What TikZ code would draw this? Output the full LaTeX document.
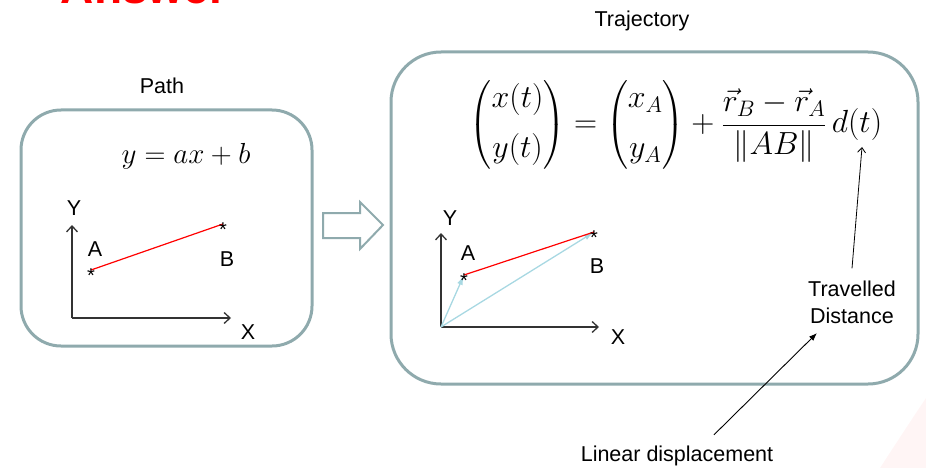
\RequirePackage{fix-cm}
\documentclass[tikz,border=0pt]{standalone}
\usepackage{amsmath}
\usepackage{fontspec}
\setmainfont{Liberation Sans}
\usetikzlibrary{arrows.meta,positioning}
\definecolor{boxgray}{HTML}{8FAAAD}
\definecolor{vecblue}{HTML}{A8D8E2}

\begin{document}
\begin{tikzpicture}[x=1pt, y=-1pt,
    lbl/.style={font=\fontsize{21.5}{27}\selectfont, inner sep=0pt},
    panel/.style={draw=boxgray, line width=3pt, rounded corners=40pt, inner sep=0pt},
    axis/.style={-{Straight Barb[length=6pt,width=11pt]}, line width=1.3pt, draw=black!80},
    vec/.style={-{Latex[length=9pt,width=6pt]}, draw=vecblue, line width=1.3pt},
    seg/.style={draw=red, line width=1.2pt},
    star/.style={font=\fontsize{20}{20}\selectfont, inner sep=0pt, anchor=base, yshift=-12pt},
    note/.style={-{Straight Barb[length=5pt,width=8pt]}, line width=0.8pt},
    eq/.style={font=\fontsize{32}{38}\selectfont, inner sep=0pt}]
  \useasboundingbox (0,0) rectangle (926,468);
  \fill[red!4] (926,398) .. controls (908,425) and (893,448) .. (880,468) -- (926,468) -- cycle;

  \node[font=\fontsize{46}{46}\selectfont\bfseries, text=red, anchor=base, inner sep=0pt] (ans) at (144,4) {Answer};

  % path
  \node[lbl] (tPath) at (162,86) {Path};
  \node[panel, minimum width=291pt, minimum height=236pt] (bxPath) at (166.5,228) {};
  \node[eq, font=\fontsize{29}{34}\selectfont] (eqPath) at (186,156) {$y = ax + b$};
  \coordinate (o1) at (72,318);
  \coordinate (y1) at (72,225);
  \coordinate (x1) at (231,318);
  \coordinate (a1) at (91,270);
  \coordinate (b1) at (223,224);
  \draw[axis] (o1) -- (y1);
  \draw[axis] (o1) -- (x1);
  \draw[seg] (a1) -- (b1);
  \node[star] (sa1) at (a1) {*};
  \node[star] (sb1) at (b1) {*};
  \node[lbl] (lY1) at (74,208) {Y};
  \node[lbl] (lX1) at (248,332) {X};
  \node[lbl] (lA1) at (95,249) {A};
  \node[lbl] (lB1) at (227,259) {B};

  % hollow arrow
  \draw[draw=boxgray, line width=2pt, fill=white, line join=miter]
    (323,213) -- (360,213) -- (360,202) -- (383,225) -- (360,249) -- (360,238) -- (323,238) -- cycle;

  % trajectory
  \node[lbl] (tTraj) at (642,21) {Trajectory};
  \node[panel, rounded corners=50pt, minimum width=527pt, minimum height=332pt] (bxTraj) at (654.5,218) {};
  \node[eq] (eqTraj) at (676,125) {$\begin{pmatrix} x(t)\\[12pt] y(t)\end{pmatrix} = \begin{pmatrix} x_A\\[12pt] y_A\end{pmatrix} + \dfrac{\vec r_B - \vec r_A}{\left\lVert AB\right\rVert}\, d(t)$};
  \coordinate (o2) at (441,327);
  \coordinate (y2) at (441,233);
  \coordinate (x2) at (599,327);
  \coordinate (a2) at (464,275);
  \coordinate (b2) at (594,232);
  \draw[axis] (o2) -- (y2);
  \draw[axis] (o2) -- (x2);
  \draw[vec, shorten >=1pt] (o2) -- (a2);
  \draw[vec, shorten >=1pt] (o2) -- (b2);
  \draw[seg] (a2) -- (b2);
  \node[star] (sa2) at (a2) {*};
  \node[star] (sb2) at (b2) {*};
  \node[lbl] (lY2) at (450,218) {Y};
  \node[lbl] (lX2) at (618,337) {X};
  \node[lbl] (lA2) at (468,253) {A};
  \node[lbl] (lB2) at (597,266) {B};

  % notes
  \coordinate (dt) at (862,147);
  \node[lbl, align=center] (trav) at (852,302) {Travelled\\Distance};
  \draw[note] ([yshift=12pt]trav.north) -- (dt);
  \coordinate (ld) at (817,333);
  \node[lbl] (lin) at (677,456) {Linear displacement};
  \draw[-{Latex[length=8pt,width=6pt]}, line width=0.9pt] ([xshift=37pt,yshift=11pt]lin.north) -- (ld);
\end{tikzpicture}
\end{document}
